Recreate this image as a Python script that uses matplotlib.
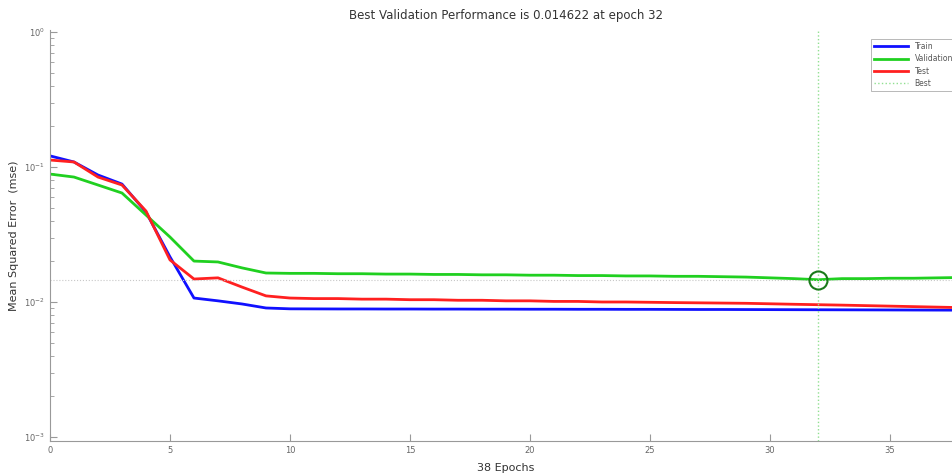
import numpy as np
import matplotlib.pyplot as plt

# performance values (mse per epoch, 0..38)
epochs = np.arange(0, 39)

train_mse = [0.121, 0.109, 0.0873, 0.0748, 0.0464, 0.0216, 0.0107, 0.0102, 0.00967, 0.00903,
             0.00890, 0.00889, 0.00888, 0.00888, 0.00887, 0.00887, 0.00886, 0.00886, 0.00885, 0.00885,
             0.00884, 0.00884, 0.00883, 0.00883, 0.00882, 0.00882, 0.00881, 0.00880, 0.00880, 0.00879,
             0.00878, 0.00877, 0.00876, 0.00875, 0.00874, 0.00873, 0.00872, 0.00871, 0.00870]

val_mse = [0.0887, 0.0843, 0.0736, 0.0642, 0.0441, 0.0303, 0.0201, 0.0198, 0.0179, 0.0164,
           0.0163, 0.0163, 0.0162, 0.0162, 0.0161, 0.0161, 0.0160, 0.0160, 0.0159, 0.0159,
           0.0158, 0.0158, 0.0157, 0.0157, 0.0156, 0.0156, 0.0155, 0.0155, 0.0154, 0.0153,
           0.0151, 0.0149, 0.014622, 0.0149, 0.0149, 0.0150, 0.0150, 0.0151, 0.0152]

test_mse = [0.1127, 0.109, 0.0843, 0.0736, 0.0472, 0.0205, 0.0148, 0.0151, 0.0129, 0.0111,
            0.0107, 0.0106, 0.0106, 0.0105, 0.0105, 0.0104, 0.0104, 0.0103, 0.0103, 0.0102,
            0.0102, 0.0101, 0.0101, 0.0100, 0.0100, 0.00995, 0.00990, 0.00986, 0.00982, 0.00978,
            0.00970, 0.00962, 0.00955, 0.00948, 0.00940, 0.00932, 0.00924, 0.00916, 0.00908]

best_epoch = 32
best_perf = 0.014622

fig = plt.figure(figsize=(9.52, 4.74), dpi=100)
ax = fig.add_axes([0.0525, 0.0696, 0.958, 0.867])

ax.plot(epochs, train_mse, color='#1010ff', lw=2, label='Train')
ax.plot(epochs, val_mse, color='#20d020', lw=2, label='Validation')
ax.plot(epochs, test_mse, color='#ff2020', lw=2, label='Test')
ax.axvline(best_epoch, color='#90e090', lw=1, ls=':', label='Best')
ax.axhline(best_perf, color='#c8c8c8', lw=0.8, ls=':')
ax.plot(best_epoch, best_perf, 'o', mfc='none', mec='#1a7a1a', mew=1.5, ms=13)

ax.set_yscale('log')
ax.set_xlim(0, 38)
ax.set_ylim(10 ** -3.03, 10 ** 0.015)
ax.set_xticks([0, 5, 10, 15, 20, 25, 30, 35])
ax.set_yticks([1e-3, 1e-2, 1e-1, 1e0])

for s in ['top', 'right']:
    ax.spines[s].set_visible(False)
for s in ['left', 'bottom']:
    ax.spines[s].set_color('#999999')
ax.tick_params(which='both', direction='in', colors='#999999', labelcolor='#666666', labelsize=6)
ax.tick_params(which='major', length=5)
ax.tick_params(which='minor', length=3)

ax.set_title('Best Validation Performance is 0.014622 at epoch 32', fontsize=8.5, color='#333333', pad=8)
ax.set_xlabel('38 Epochs', fontsize=8, color='#333333', labelpad=6)
ax.set_ylabel('Mean Squared Error  (mse)', fontsize=8, color='#333333', labelpad=4)

leg = ax.legend(loc='upper left', bbox_to_anchor=(0.896, 0.988), fontsize=5.5, frameon=True,
                fancybox=False, edgecolor='#999999', handlelength=4.5, borderpad=0.4,
                labelspacing=0.45, labelcolor='#555555')
leg.get_frame().set_linewidth(0.6)

fig.savefig('out.png', dpi=100)
